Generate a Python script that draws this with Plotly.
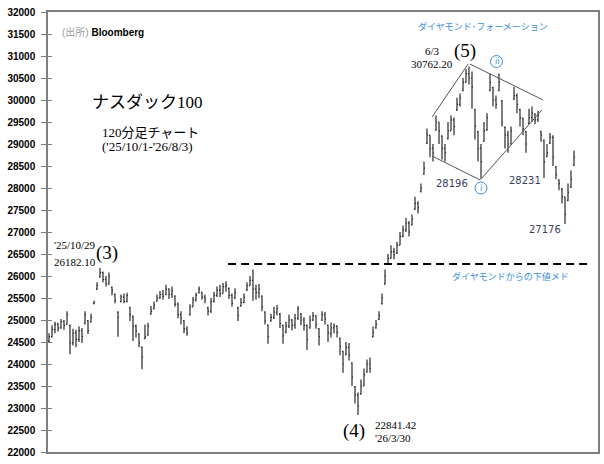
import plotly.graph_objects as go

# === 120-minute bars, '25/10/1 - '26/8/3 ===
bar_close = [
    24620, 24780, 24900, 24820, 24960, 24880, 25120, 24480, 24700, 24560,
    24760, 24620, 25120, 24760, 25060, 25400, 25780, 26080, 25920, 25820,
    26000, 25680, 25440, 25060, 25520, 25420, 25560, 25120, 24860, 24760,
    24480, 24160, 24620, 24860, 25200, 25340, 25500, 25580, 25540, 25700,
    25580, 25660, 25360, 25120, 25040, 24800, 24700, 25300, 25460, 25560,
    25700, 25520, 25460, 25200, 25420, 25560, 25680, 25600, 25760, 25800,
    25560, 25380, 25620, 25100, 25400, 25520, 25780, 25900, 25700, 25620,
    25700, 25300, 24980, 24620, 25060, 25180, 25260, 24920, 24640, 24860,
    25000, 24880, 25040, 25260, 25000, 24880, 24560, 25000, 25100, 24900,
    24620, 25120, 25020, 24700, 24820, 24860, 24720, 24400, 24000, 24380,
    24200, 23700, 23300, 23050, 23500, 23760, 24000, 23900, 24720, 24900,
    25100, 25500, 26000, 26400, 26550, 26480, 26700, 26900, 27050, 27200,
    27000, 27300, 27650, 27550, 28000, 28450, 29200, 28900, 28800, 29500,
    29300, 28900, 28800, 29300, 29550, 29400, 29900, 30050, 30400, 30600,
    30500, 30300, 29400, 28900, 28600, 29300, 29600, 30400, 30000, 29900,
    30400, 29500, 29200, 29000, 29300, 30100, 29900, 29600, 29350, 29000,
    29600, 29700, 29550, 29650, 29200, 28600, 28800, 29150, 28700, 28300,
    28100, 27800, 27400, 27900, 28200, 28700,
]
bar_high = [
    24700, 24880, 24960, 24940, 25020, 25000, 25200, 24900, 24800, 24780,
    24860, 24820, 25200, 25000, 25140, 25440, 25860, 26180, 26100, 26000,
    26080, 25760, 25600, 25200, 25580, 25600, 25620, 25300, 25100, 24900,
    24700, 24400, 24900, 24940, 25320, 25420, 25580, 25660, 25680, 25800,
    25720, 25760, 25560, 25400, 25200, 25000, 24860, 25360, 25520, 25620,
    25760, 25640, 25580, 25300, 25500, 25640, 25760, 25800, 25840, 25880,
    25740, 25600, 25720, 25300, 25500, 25600, 25860, 26000, 26150, 25800,
    25820, 25560, 25200, 24900, 25140, 25300, 25340, 25160, 24900, 24960,
    25120, 25020, 25140, 25320, 25160, 25060, 24900, 25100, 25180, 25100,
    24820, 25200, 25180, 24900, 24940, 24920, 24880, 24600, 24300, 24500,
    24480, 24040, 23500, 23350, 23650, 23900, 24100, 24150, 24850, 25000,
    25200, 25600, 26150, 26500, 26700, 26640, 26780, 27000, 27150, 27320,
    27250, 27400, 27800, 27700, 28100, 28600, 29350, 29200, 29000, 29650,
    29500, 29200, 29000, 29500, 29650, 29600, 30050, 30150, 30500, 30700,
    30760, 30650, 29800, 29300, 29000, 29500, 29700, 30600, 30300, 30100,
    30600, 30000, 29400, 29300, 29400, 30300, 30150, 29800, 29600, 29300,
    29800, 29850, 29700, 29750, 29300, 29100, 29000, 29250, 29200, 28500,
    28200, 28000, 27800, 28100, 28400, 28850,
]
bar_low = [
    24480, 24600, 24700, 24740, 24800, 24780, 24900, 24220, 24420, 24380,
    24500, 24480, 24900, 24680, 24940, 25360, 25680, 25960, 25850, 25760,
    25800, 25560, 25380, 24620, 25400, 25380, 25400, 24980, 24520, 24600,
    24380, 23880, 24560, 24640, 25120, 25240, 25420, 25480, 25460, 25560,
    25480, 25500, 25300, 25040, 24900, 24700, 24640, 25100, 25300, 25420,
    25600, 25460, 25380, 25100, 25160, 25400, 25520, 25520, 25600, 25640,
    25480, 25300, 25480, 24980, 25300, 25380, 25660, 25780, 25440, 25460,
    25500, 25200, 24900, 24460, 24960, 25020, 25100, 24820, 24460, 24700,
    24820, 24760, 24800, 25000, 24880, 24760, 24320, 24800, 24980, 24800,
    24420, 24980, 24900, 24500, 24600, 24700, 24600, 24200, 23800, 24200,
    24080, 23500, 23100, 22840, 23300, 23500, 23800, 23800, 24600, 24800,
    25000, 25350, 25800, 26250, 26400, 26380, 26500, 26700, 26880, 27000,
    26900, 27150, 27500, 27420, 27900, 28300, 29000, 28700, 28600, 29300,
    29000, 28650, 28600, 29100, 29300, 29200, 29750, 29850, 30200, 30400,
    30350, 29800, 29100, 28600, 28200, 29050, 29300, 30200, 29850, 29800,
    30200, 29400, 28900, 28800, 29000, 30000, 29700, 29400, 29200, 28800,
    29450, 29500, 29450, 29500, 29050, 28230, 28700, 29000, 28500, 28200,
    27950, 27650, 27180, 27700, 28000, 28500,
]
bar_open = [
    24520, 24620, 24780, 24900, 24820, 24960, 24900, 24880, 24480, 24700,
    24560, 24760, 24920, 24980, 24960, 25370, 25700, 25980, 26080, 25920,
    25820, 25740, 25580, 25180, 25420, 25520, 25420, 25280, 25080, 24860,
    24680, 24380, 24580, 24660, 25140, 25260, 25430, 25500, 25580, 25580,
    25700, 25580, 25540, 25360, 25120, 24980, 24800, 25120, 25300, 25460,
    25620, 25630, 25520, 25280, 25200, 25420, 25560, 25680, 25600, 25760,
    25720, 25560, 25500, 25280, 25320, 25400, 25680, 25780, 25900, 25700,
    25620, 25540, 25180, 24880, 24980, 25060, 25180, 25140, 24880, 24720,
    24860, 25000, 24880, 25040, 25140, 25000, 24880, 24820, 25000, 25100,
    24800, 25000, 25120, 24880, 24700, 24820, 24860, 24580, 24280, 24220,
    24380, 24020, 23480, 23300, 23320, 23500, 23820, 24000, 24620, 24820,
    25020, 25370, 25820, 26270, 26400, 26550, 26520, 26700, 26900, 27050,
    27200, 27160, 27520, 27650, 27920, 28320, 29020, 29200, 28900, 29320,
    29500, 29180, 28900, 29120, 29300, 29550, 29770, 29900, 30220, 30400,
    30600, 30500, 29780, 29280, 28900, 29060, 29320, 30220, 30280, 30000,
    30220, 29980, 29380, 29200, 29000, 30020, 30100, 29780, 29580, 29280,
    29470, 29600, 29680, 29550, 29280, 29080, 28720, 29020, 29150, 28480,
    28180, 27980, 27800, 27720, 28020, 28520,
]
bar_idx = list(range(len(bar_close)))

# diamond formation lines (bar index, price)
diamond_x = [[127.7, 139.7], [140.3, 164.7], [127.7, 143.7], [144.3, 164.3]]
diamond_y = [[29614, 30818], [30818, 30000], [28727, 28182], [28227, 29773]]

# downside target from the diamond
target_level = 26270
target_span = [59.7, 180.3]

y_ticks = list(range(22000, 32001, 500))
y_ticktext = [str(v) for v in y_ticks]

BLUE = "#3d8fd8"
NAVY = "#36405a"
SERIF = "Liberation Serif, Noto Sans CJK JP"

fig = go.Figure()

fig.add_trace(go.Ohlc(
    x=bar_idx, open=bar_open, high=bar_high, low=bar_low, close=bar_close,
    increasing=dict(line=dict(color="#2a2a2a", width=1.2)),
    decreasing=dict(line=dict(color="#2a2a2a", width=1.2)),
    tickwidth=0.35,
    showlegend=False,
    hoverinfo="skip",
))

for xs, ys in zip(diamond_x, diamond_y):
    fig.add_trace(go.Scatter(
        x=xs, y=ys, mode="lines",
        line=dict(color="#555555", width=1),
        showlegend=False, hoverinfo="skip",
    ))

fig.add_trace(go.Scatter(
    x=target_span, y=[target_level, target_level], mode="lines",
    line=dict(color="black", width=2, dash="8px,5px"),
    showlegend=False, hoverinfo="skip",
))

# dummy trace for the inner half of the cross ticks
fig.add_trace(go.Scatter(x=[0], y=[22000], yaxis="y2", mode="markers",
                         marker=dict(opacity=0), showlegend=False, hoverinfo="skip"))


def px_x(p):
    return (p - 48) / 550


def px_y(p):
    return (452 - p) / 440


notes = [
    # text, x px, y px, anchor, size, color, family
    ("<span style='color:#9a9a9a'>(出所)</span> <b>Bloomberg</b>", 60, 32, "left", 10, "black", "Liberation Sans, Noto Sans CJK JP"),
    ("ナスダック100", 90, 103, "left", 17, "black", SERIF),
    ("120分足チャート", 100, 132, "left", 13, "black", SERIF),
    ("('25/10/1-'26/8/3)", 100, 147, "left", 13, "black", SERIF),
    ("ダイヤモンド･フォーメーション", 483, 27, "center", 9, BLUE, SERIF),
    ("6/3", 432, 51, "center", 11, "black", SERIF),
    ("30762.20", 432, 64, "center", 11, "black", SERIF),
    ("(5)", 465, 51, "center", 19, "black", SERIF),
    ("28196", 452, 183, "center", 10, NAVY, "DejaVu Sans"),
    ("28231", 525, 180, "center", 10, NAVY, "DejaVu Sans"),
    ("27176", 545, 229, "center", 10, NAVY, "DejaVu Sans"),
    ("ダイヤモンドからの下値メド", 510, 276, "center", 9, BLUE, SERIF),
    ("'25/10/29", 52, 245, "left", 11, "black", SERIF),
    ("26182.10", 52, 262, "left", 11, "black", SERIF),
    ("(3)", 107, 253, "center", 19, "black", SERIF),
    ("(4)", 354, 431, "center", 19, "black", SERIF),
    ("22841.42", 373, 425, "left", 11, "black", SERIF),
    ("'26/3/30", 373, 438, "left", 11, "black", SERIF),
    ("ii", 496.5, 61.5, "center", 8, BLUE, "DejaVu Sans"),
    ("i", 481, 188, "center", 8, BLUE, "DejaVu Sans"),
]

for text, x, y, anchor, size, color, family in notes:
    fig.add_annotation(
        x=px_x(x), y=px_y(y), xref="paper", yref="paper",
        text=text, showarrow=False, xanchor=anchor, yanchor="middle",
        font=dict(size=size, color=color, family=family),
    )

# circled wave labels
for cx, cy in [(496.5, 61.5), (481, 188)]:
    r = 6
    fig.add_shape(
        type="circle", xref="paper", yref="paper",
        x0=px_x(cx - r), x1=px_x(cx + r), y0=px_y(cy + r), y1=px_y(cy - r),
        line=dict(color=BLUE, width=1), fillcolor="white", layer="below",
    )

fig.update_layout(
    width=604, height=464,
    margin=dict(l=48, r=6, t=12, b=12),
    paper_bgcolor="white", plot_bgcolor="white",
    font=dict(family="Liberation Sans", color="black"),
    xaxis=dict(
        range=[-0.33, 183], showgrid=False, zeroline=False,
        showticklabels=False, ticks="", rangeslider=dict(visible=False),
        showline=True, linecolor="#7f7f7f", linewidth=1.5, mirror=True,
        automargin=False,
    ),
    yaxis=dict(
        range=[22000, 32000], tickvals=y_ticks, ticktext=y_ticktext,
        showgrid=False, zeroline=False,
        ticks="outside", ticklen=5, tickcolor="#7f7f7f", tickwidth=1,
        showline=True, linecolor="#7f7f7f", linewidth=1.5, mirror=True,
        tickfont=dict(size=10, family="Liberation Sans", color="black", weight="bold"),
        ticklabelstandoff=4, automargin=False,
    ),
    yaxis2=dict(
        range=[22000, 32000], tickvals=y_ticks, overlaying="y", side="left",
        showgrid=False, zeroline=False, showticklabels=False,
        ticks="inside", ticklen=4, tickcolor="#7f7f7f", tickwidth=1,
        automargin=False,
    ),
    showlegend=False,
)

fig.write_html("out.html", config={"displayModeBar": False})

# drop the default page margin so the figure sits at the window's corner
with open("out.html", encoding="utf-8") as f:
    page = f.read()
page = page.replace("<body>", '<body style="margin:0">', 1)
with open("out.html", "w", encoding="utf-8") as f:
    f.write(page)
